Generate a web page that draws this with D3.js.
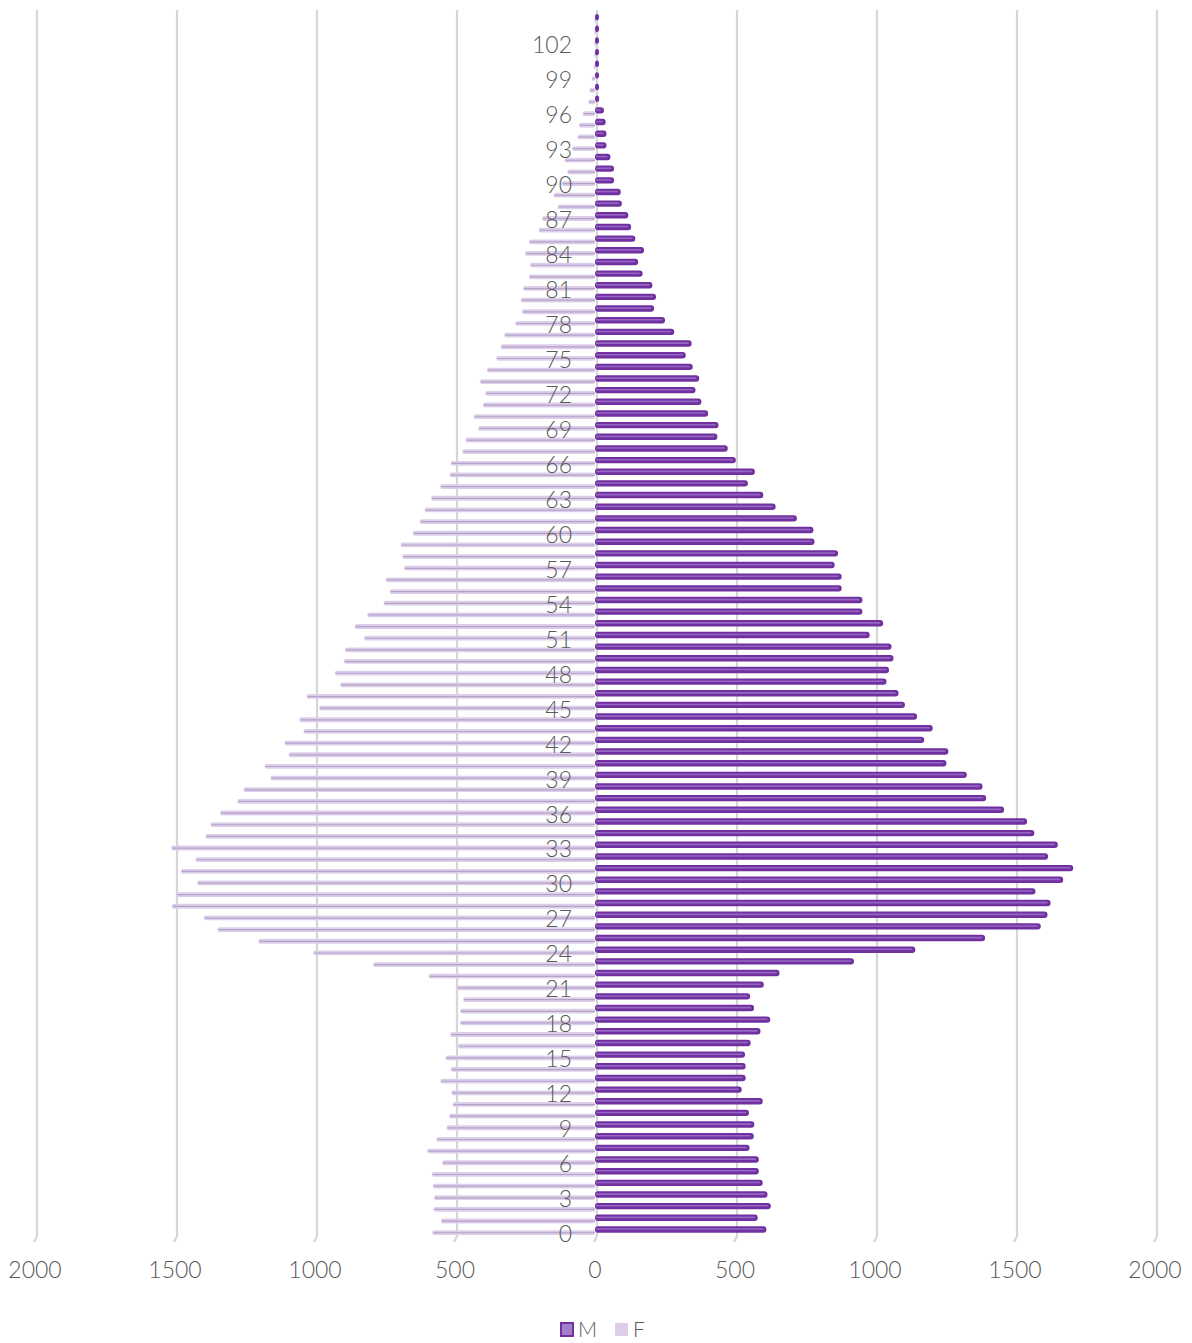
<!DOCTYPE html>
<html>
<head>
<meta charset="utf-8">
<script src="https://cdn.jsdelivr.net/npm/d3@7"></script>
<style>
  body { margin: 0; background: #fff; }
  svg text { font-family: Lato, "Open Sans", sans-serif; font-weight: 300; fill: #595959; }
</style>
</head>
<body>
<svg width="1192" height="1343"></svg>
<script>
// ages 0..104 (M to the right, F to the left)
var ages = d3.range(0, 105);

var male = [612, 581, 628, 616, 599, 585, 585, 552, 567, 569,
            550, 599, 524, 538, 538, 536, 556, 591, 626, 568,
            554, 603, 659, 925, 1144, 1393, 1592, 1616, 1627, 1573,
            1672, 1708, 1618, 1653, 1569, 1543, 1461, 1397, 1384, 1328,
            1255, 1262, 1176, 1206, 1150, 1107, 1084, 1041, 1050, 1066,
            1059, 981, 1029, 955, 955, 881, 881, 856, 868, 784,
            780, 721, 645, 601, 546, 571, 503, 474, 437, 441,
            404, 380, 359, 372, 349, 324, 345, 283, 250, 211,
            218, 205, 170, 154, 175, 144, 129, 119, 96, 92,
            68, 68, 55, 41, 41, 38, 32, 15, 14, 8,
            7, 6, 6, 6, 6];

var female = [581, 550, 577, 575, 579, 583, 546, 599, 567, 530,
              521, 509, 513, 552, 515, 534, 489, 517, 482, 482,
              471, 494, 594, 792, 1006, 1202, 1348, 1397, 1511, 1496,
              1421, 1479, 1427, 1513, 1391, 1373, 1339, 1277, 1255, 1159,
              1180, 1094, 1109, 1041, 1056, 985, 1030, 910, 929, 897,
              893, 825, 858, 813, 755, 733, 747, 682, 688, 694,
              651, 626, 608, 585, 553, 519, 515, 474, 462, 417,
              433, 400, 392, 411, 386, 353, 337, 324, 285, 261,
              265, 257, 236, 232, 250, 236, 201, 189, 133, 148,
              120, 99, 109, 82, 62, 57, 44, 24, 20, 12,
              5, 3, 3, 2, 2];

var xTicks = [-2000, -1500, -1000, -500, 0, 500, 1000, 1500, 2000];
var ageLabels = ages.filter(function(a) { return a % 3 === 0; });
var series = ["M", "F"];

var svg = d3.select("svg"),
    plotTop = 13, plotBottom = 1237;

var x = d3.scaleLinear().domain([-2000, 2000]).range([35, 1155]),
    y = d3.scaleBand().domain(ages.slice().reverse()).range([plotTop, plotBottom]),
    bw = y.bandwidth();

// gridlines sit on the back wall (a touch right), with the slanted foot of the 3d floor
var grid = svg.append("g").attr("class", "grid");
grid.selectAll("path")
  .data(xTicks)
  .enter().append("path")
    .attr("d", function(d) { return "M" + (x(d) + 2) + ",10V" + (plotBottom - 1) + "l-3,6"; })
    .style("fill", "none")
    .style("stroke", "#d6d6d6")
    .style("stroke-width", 2.2);

var mid = function(a) { return y(a) + bw / 2; };
var x0 = x(0);

// F bars (left, sit a bit lower in the band)
var fBars = svg.append("g").attr("class", "female")
  .selectAll("g")
  .data(ages)
  .enter().append("g");

fBars.append("rect")
    .attr("x", function(a) { return x(-female[a]); })
    .attr("y", function(a) { return mid(a) - 0.9; })
    .attr("width", function(a) { return Math.max(x0 - x(-female[a]), 2); })
    .attr("height", 4.8)
    .attr("rx", 2)
    .style("fill", "#ddcfea");

fBars.append("line")
    .attr("x1", function(a) { return x(-female[a]) + 1; })
    .attr("x2", x0)
    .attr("y1", function(a) { return mid(a) + 1.6; })
    .attr("y2", function(a) { return mid(a) + 1.6; })
    .style("stroke", "#b5a2c9")
    .style("stroke-width", 1.2);

// M bars (right)
var mBars = svg.append("g").attr("class", "male")
  .selectAll("g")
  .data(ages)
  .enter().append("g");

mBars.append("rect")
    .attr("x", x0)
    .attr("y", function(a) { return mid(a) - 4.9; })
    .attr("width", function(a) { return Math.max(x(male[a]) - x0, 4); })
    .attr("height", 6.4)
    .attr("rx", 3)
    .style("fill", "#7030a0");

mBars.append("line")
    .attr("x1", x0 + 1)
    .attr("x2", function(a) { return Math.max(x(male[a]) - 3, x0 + 1); })
    .attr("y1", function(a) { return mid(a) - 2.1; })
    .attr("y2", function(a) { return mid(a) - 2.1; })
    .style("stroke", "#9467c2")
    .style("stroke-width", 1.6);

// age labels
svg.append("g").attr("class", "axis axis--y")
  .selectAll("text")
  .data(ageLabels)
  .enter().append("text")
    .attr("x", 572)
    .attr("y", function(a) { return mid(a) + 2; })
    .attr("text-anchor", "end")
    .attr("dominant-baseline", "central")
    .style("font-size", "23px")
    .text(function(a) { return a; });

// value axis labels
svg.append("g").attr("class", "axis axis--x")
  .selectAll("text")
  .data(xTicks)
  .enter().append("text")
    .attr("x", function(d) { return x(d); })
    .attr("y", 1269)
    .attr("text-anchor", "middle")
    .attr("dominant-baseline", "central")
    .style("font-size", "23px")
    .text(function(d) { return Math.abs(d); });

// legend
var legend = svg.append("g").attr("class", "legend");
legend.append("rect")
    .attr("x", 561).attr("y", 1323).attr("width", 12).attr("height", 13)
    .style("fill", "#a27fc6").style("stroke", "#7030a0").style("stroke-width", 2);
legend.append("text")
    .attr("x", 578).attr("y", 1337)
    .style("font-size", "21px")
    .text(series[0]);
legend.append("rect")
    .attr("x", 615).attr("y", 1323).attr("width", 13).attr("height", 13)
    .style("fill", "#dccde8");
legend.append("text")
    .attr("x", 633).attr("y", 1337)
    .style("font-size", "21px")
    .text(series[1]);
</script>
</body>
</html>
